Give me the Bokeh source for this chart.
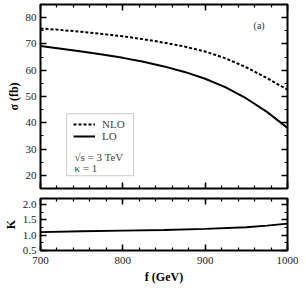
from bokeh.plotting import figure
from bokeh.layouts import column
from bokeh.models import (LinearAxis, SingleIntervalTicker, Legend, LegendItem,
                          Label, BoxAnnotation, Range1d, PrintfTickFormatter,
                          CustomLabelingPolicy)
from bokeh.embed import file_html
from bokeh.resources import INLINE

# ---- data ----
f_vals = [700, 725, 750, 775, 800, 825, 850, 875, 900, 925, 950, 975, 1000]
sigma_nlo = [75.9, 75.3, 74.6, 73.8, 72.9, 71.8, 70.5, 69.0, 67.1, 64.5, 61.1, 57.0, 52.6]
sigma_lo = [69.2, 68.2, 67.15, 66.0, 64.7, 63.2, 61.45, 59.35, 56.75, 53.45, 49.25, 44.15, 38.05]
k_f = [700, 750, 800, 850, 900, 950, 975, 1000]
k_vals = [1.10, 1.13, 1.15, 1.17, 1.21, 1.26, 1.31, 1.38]

FONT = "Liberation Serif"


def style_axis(ax, interval, minor, show_labels):
    ax.ticker = SingleIntervalTicker(interval=interval, num_minor_ticks=minor)
    ax.major_tick_in = 6
    ax.major_tick_out = 0
    ax.minor_tick_in = 3
    ax.minor_tick_out = 0
    ax.major_tick_line_width = 1.5
    ax.minor_tick_line_width = 1.2
    ax.major_tick_line_color = "black"
    ax.minor_tick_line_color = "black"
    ax.axis_line_color = None
    ax.major_label_text_font = FONT
    ax.major_label_text_color = "#222222"
    ax.axis_label_text_font = FONT
    ax.axis_label_text_font_style = "bold"
    ax.axis_label_text_font_size = "12px"
    ax.axis_label_text_color = "black"
    if show_labels:
        ax.major_label_text_font_size = "11px"
    else:
        ax.major_label_text_font_size = "1px"
        ax.major_label_standoff = 0
        ax.major_label_policy = CustomLabelingPolicy(code="return []")


xr = Range1d(700, 1000)

# ---------------- top panel ----------------
p1 = figure(width=298, height=193, x_range=xr, y_range=Range1d(15, 85),
            output_backend="svg", toolbar_location=None,
            min_border_left=32, min_border_right=11,
            min_border_top=1, min_border_bottom=5)
p1.grid.visible = False
p1.outline_line_color = "black"
p1.outline_line_width = 2
p1.background_fill_color = "white"

style_axis(p1.xaxis[0], 100, 5, False)
style_axis(p1.yaxis[0], 10, 2, True)
p1.yaxis[0].axis_label = "σ (fb)"
p1.yaxis[0].major_label_standoff = 4
p1.yaxis[0].axis_label_standoff = 2
ax_top = LinearAxis()
style_axis(ax_top, 100, 5, False)
p1.add_layout(ax_top, "above")
ax_r1 = LinearAxis()
style_axis(ax_r1, 10, 2, False)
p1.add_layout(ax_r1, "right")

r_nlo = p1.line(f_vals, sigma_nlo, line_color="black", line_width=2, line_dash="3 2")
r_lo = p1.line(f_vals, sigma_lo, line_color="black", line_width=2)

p1.add_layout(BoxAnnotation(left=731.8, right=813, bottom=19.87, top=43.45,
                            fill_alpha=0, line_color="#555555", line_width=1))
legend = Legend(items=[LegendItem(label="NLO", renderers=[r_nlo]),
                       LegendItem(label="LO", renderers=[r_lo])],
                location=(33, 46), padding=0, spacing=0, margin=0,
                glyph_width=22, glyph_height=12, label_height=12,
                label_standoff=7, border_line_color=None,
                background_fill_alpha=0, label_text_font=FONT,
                label_text_font_size="11px")
p1.add_layout(legend)
p1.add_layout(Label(x=741.2, y=26.98, text="√s = 3 TeV", text_font=FONT,
                    text_font_size="11px", text_baseline="alphabetic"))
p1.add_layout(Label(x=741.2, y=22.86, text="κ = 1", text_font=FONT,
                    text_font_size="11px", text_baseline="alphabetic"))
p1.add_layout(Label(x=958.8, y=77.15, text="(a)", text_font=FONT,
                    text_font_size="10px", text_baseline="alphabetic",
                    text_color="#333333"))

# ---------------- bottom panel ----------------
p2 = figure(width=298, height=93, x_range=xr, y_range=Range1d(0.5, 2.2),
            output_backend="svg", toolbar_location=None,
            min_border_left=32, min_border_right=11,
            min_border_top=5, min_border_bottom=36)
p2.grid.visible = False
p2.outline_line_color = "black"
p2.outline_line_width = 2

style_axis(p2.xaxis[0], 100, 5, True)
p2.xaxis[0].axis_label = "f (GeV)"
p2.xaxis[0].major_label_standoff = 6
p2.xaxis[0].axis_label_standoff = 3
style_axis(p2.yaxis[0], 0.5, 2, True)
p2.yaxis[0].formatter = PrintfTickFormatter(format="%.1f")
p2.yaxis[0].axis_label = "K"
p2.yaxis[0].major_label_standoff = 4
p2.yaxis[0].axis_label_standoff = 2
ax_top2 = LinearAxis()
style_axis(ax_top2, 100, 5, False)
p2.add_layout(ax_top2, "above")
ax_r2 = LinearAxis()
style_axis(ax_r2, 0.5, 2, False)
p2.add_layout(ax_r2, "right")

p2.line(k_f, k_vals, line_color="black", line_width=1.8)

layout = column(p1, p2, spacing=0)
open("out.html", "w").write(file_html(layout, INLINE))
